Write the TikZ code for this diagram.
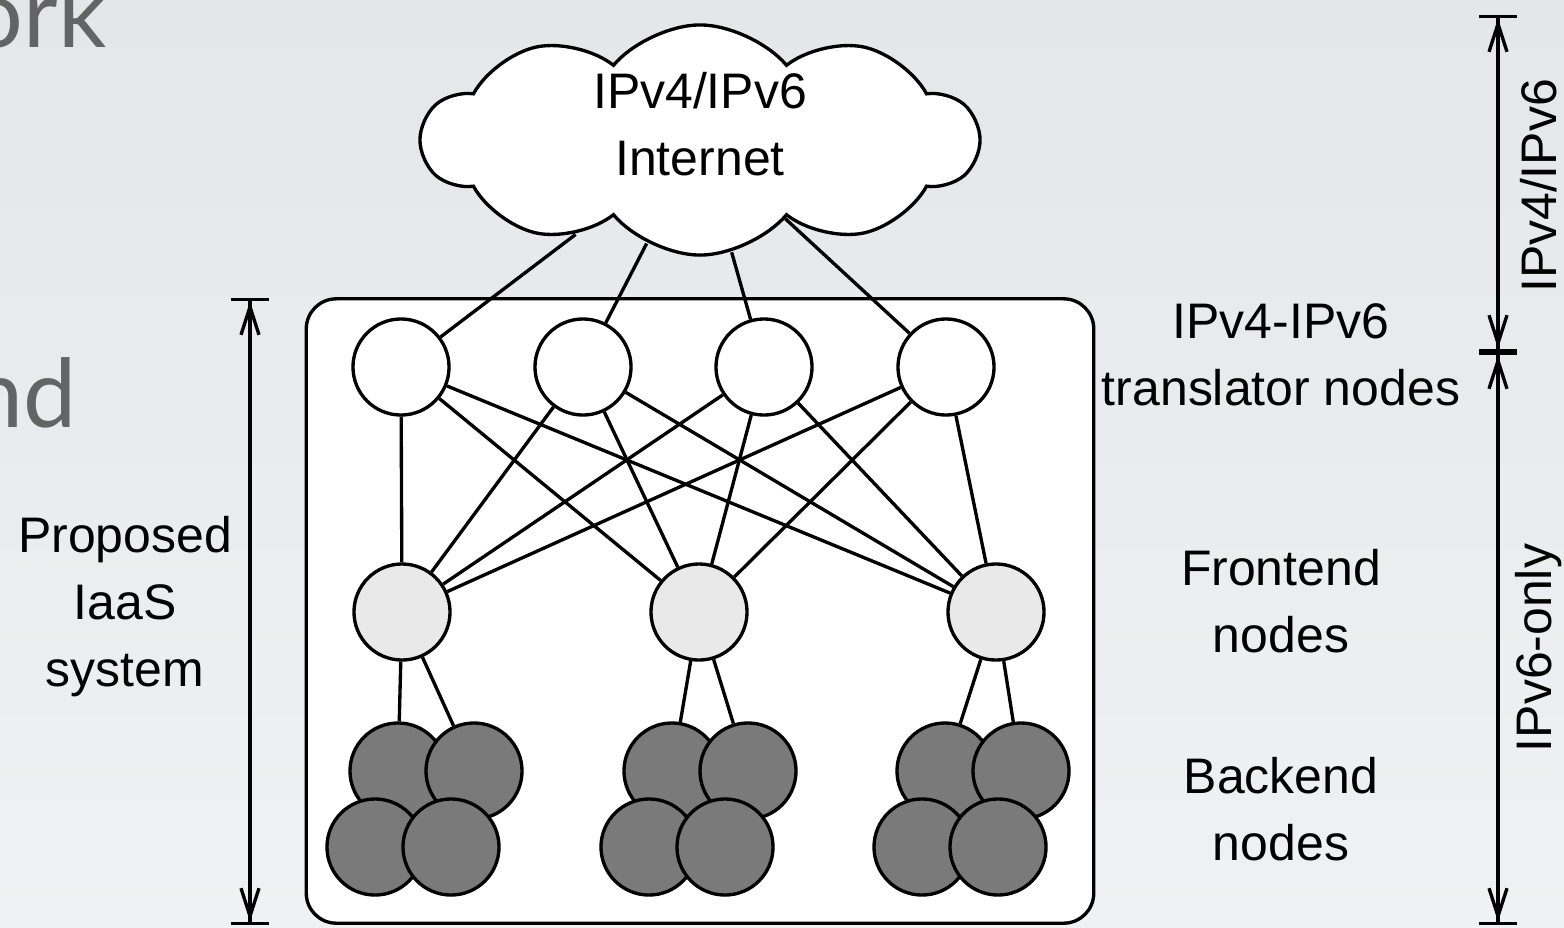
\documentclass[tikz,border=0pt]{standalone}
\usepackage{fontspec}
\setmainfont{Liberation Sans}
\newfontfamily\slidefont{Lato}
\usetikzlibrary{shapes.symbols,arrows.meta}

\definecolor{slidetop}{RGB}{229,230,234}
\definecolor{slidebot}{RGB}{240,241,243}
\definecolor{frontgray}{RGB}{233,233,233}
\definecolor{backgray}{RGB}{122,122,122}
\definecolor{titlegray}{RGB}{100,100,100}

\begin{document}
\begin{tikzpicture}[x=0.01cm,y=-0.01cm,
	font=\fontsize{14.2}{19}\selectfont,
	trans/.style={circle,draw,line width=0.95pt,fill=white,minimum size=0.96cm,inner sep=0pt},
	front/.style={trans,fill=frontgray},
	back/.style={trans,fill=backgray},
	link/.style={line width=0.95pt},
	dimline/.style={line width=0.95pt,{Bar[width=0.38cm]Straight Barb[length=0.28cm,width=0.18cm]}-{Straight Barb[length=0.28cm,width=0.18cm]Bar[width=0.38cm]}},
	lbl/.style={align=center,inner sep=0pt,anchor=base},
	slidetitle/.style={anchor=base east,inner sep=0pt,text=titlegray,font=\slidefont\fontsize{27}{30}\selectfont}]
	\useasboundingbox (0,0) rectangle (1564,927);
	\shade[top color=slidetop,bottom color=slidebot] (0,0) rectangle (1564,927);
	\node[slidetitle] (title1) at (107,47) {ork};
	\node[slidetitle] (title2) at (77,427) {nd};

	\node[draw,line width=0.95pt,fill=white,rounded corners=0.3cm,minimum width=7.87cm,minimum height=6.24cm] (sys) at (700,611) {};
	\node[cloud,cloud puffs=10,cloud puff arc=100,aspect=2.5,inner sep=0pt,draw,fill=white,line width=0.95pt,minimum width=5.55cm,minimum height=2.3cm,align=center,text height=0.865cm,text depth=0.165cm] (inet) at (700,140) {IPv4/IPv6\\Internet};

	\node[trans] (t1) at (401,367) {};
	\node[trans] (t2) at (583,367) {};
	\node[trans] (t3) at (764,367) {};
	\node[trans] (t4) at (946,367) {};
	\node[front] (f1) at (402,612) {};
	\node[front] (f2) at (699,612) {};
	\node[front] (f3) at (996,612) {};
	\foreach \c/\x in {1/398,2/672,3/945} {
		\node[back] (b\c a) at (\x,771) {};
		\node[back] (b\c b) at (\x+76,771) {};
		\node[back] (b\c c) at (\x-23,847) {};
		\node[back] (b\c d) at (\x+53,847) {};
		\draw[link] (f\c) -- (b\c a);
		\draw[link] (f\c) -- (b\c b);
	}
	\foreach \i in {1,2,3,4} {
		\draw[link] (inet) -- (t\i);
		\foreach \j in {1,2,3}
			\draw[link] (t\i) -- (f\j);
	}

	\coordinate (ltop) at (250,298);
	\coordinate (lbot) at (250,925);
	\coordinate (rtop) at (1498,15);
	\coordinate (rmid) at (1498,352);
	\coordinate (rbot) at (1498,925);
	\draw[dimline] (ltop) -- (lbot);
	\draw[dimline] (rtop) -- (rmid);
	\draw[dimline] (rmid) -- (rbot);

	\node[lbl] (syslbl) at (125,686) {Proposed\\IaaS\\system};
	\node[lbl] (translbl) at (1281,405) {IPv4-IPv6\\translator nodes};
	\node[lbl] (frontlbl) at (1281,652) {Frontend\\nodes};
	\node[lbl] (backlbl) at (1281,860) {Backend\\nodes};
	\node[rotate=90,inner sep=0pt] (v4v6) at (1539,186) {IPv4/IPv6};
	\node[rotate=90,inner sep=0pt] (v6only) at (1539,648) {IPv6-only};
\end{tikzpicture}
\end{document}
